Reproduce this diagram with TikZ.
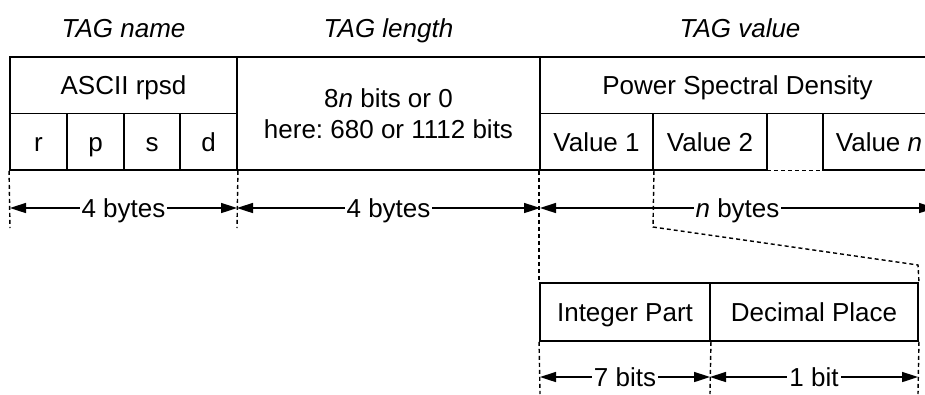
\documentclass[tikz,border=0pt]{standalone}
\usepackage{fontspec}
\setmainfont{Liberation Sans}
\usetikzlibrary{arrows.meta}
\frenchspacing
\begin{document}
\begin{tikzpicture}[x=1pt,y=-1pt,
  font=\fontsize{26}{31}\selectfont,
  box/.style={draw,line width=1.9pt,inner sep=0pt,minimum width=#1},
  cell/.style={box=#1,text height=18.5pt,text depth=0pt},
  blank/.style={inner sep=0pt,minimum width=#1},
  title/.style={font=\fontsize{26}{31}\selectfont\itshape,text height=18.5pt,text depth=0pt},
  dim/.style={line width=1.6pt,{Triangle[length=16pt,width=10pt]}-{Triangle[length=16pt,width=10pt]}},
  guide/.style={line width=1.4pt,dash pattern=on 4pt off 3pt},
  lbl/.style={fill=white,inner xsep=2pt,inner ysep=0pt,text height=18.5pt,text depth=0pt}]
\useasboundingbox (0,0) rectangle (925,394);
\clip (0,0) rectangle (925,394);
% titles
\node[title] (tn) at (123.5,28) {TAG name};
\node[title] (tl) at (388.5,28) {TAG length};
\node[title] (tv) at (740,28) {TAG value};
% TAG name
\node[cell=227pt,minimum height=56.5pt] (ascii) at (123.5,85.25) {ASCII rpsd};
\node[cell=57pt,minimum height=56.5pt] (r) at (38.5,141.75) {r};
\node[cell=57pt,minimum height=56.5pt] (p) at (95.5,141.75) {p};
\node[cell=56pt,minimum height=56.5pt] (s) at (152,141.75) {s};
\node[cell=57pt,minimum height=56.5pt] (d) at (208.5,141.75) {d};
% TAG length
\node[box=303pt,minimum height=113pt,align=center] (len) at (388.5,113.5) {8\textit{n} bits or 0\\here: 680 or 1112 bits};
% TAG value
\node[cell=395pt,minimum height=56.5pt] (psd) at (737.5,85.25) {Power Spectral Density};
\node[cell=113pt,minimum height=56.5pt] (v1) at (596.5,141.75) {Value 1};
\node[cell=114pt,minimum height=56.5pt] (v2) at (710,141.75) {Value 2};
\node[blank=56pt,minimum height=56.5pt] (gap) at (795,141.75) {};
\node[cell=112pt,minimum height=56.5pt] (vn) at (879,141.75) {Value \textit{n}};
\draw[guide] (gap.north west) -- (gap.north east);
\draw[guide] (gap.south west) -- (gap.south east);
% detail of a value
\node[cell=170pt,minimum height=58pt] (ip) at (625,312) {Integer Part};
\node[cell=208pt,minimum height=58pt] (dp) at (814,312) {Decimal Place};
% guide coordinates
\coordinate (g0) at (10,228);
\coordinate (g1) at (237,228);
\coordinate (gk) at (653,227);
\coordinate (gm) at (918,265);
\coordinate (b0) at (540,394);
\coordinate (b1) at (710,394);
\coordinate (b2) at (918,394);
% guides
\draw[guide] (r.south west) -- (g0);
\draw[guide] (d.south east) -- (g1);
\draw[guide] (v1.south west) -- (ip.north west);
\draw[guide] (v1.south east) -- (gk) -- (gm) -- (dp.north east);
\draw[guide] (ip.south west) -- (b0);
\draw[guide] (ip.south east) -- (b1);
\draw[guide] (dp.south east) -- (b2);
% dimension arrows
\coordinate (a0) at (10,208);
\coordinate (a1) at (237,208);
\coordinate (a2) at (540,208);
\coordinate (a3) at (935,208);
\coordinate (c0) at (540,377);
\coordinate (c1) at (710,377);
\coordinate (c2) at (918,377);
\draw[dim] (a0) -- node[lbl] (l1) {4 bytes} (a1);
\draw[dim] (a1) -- node[lbl] (l2) {4 bytes} (a2);
\draw[dim] (a2) -- node[lbl] (l3) {\textit{n} bytes} (a3);
\draw[dim] (c0) -- node[lbl] (l4) {7 bits} (c1);
\draw[dim] (c1) -- node[lbl] (l5) {1 bit} (c2);
\end{tikzpicture}
\end{document}
